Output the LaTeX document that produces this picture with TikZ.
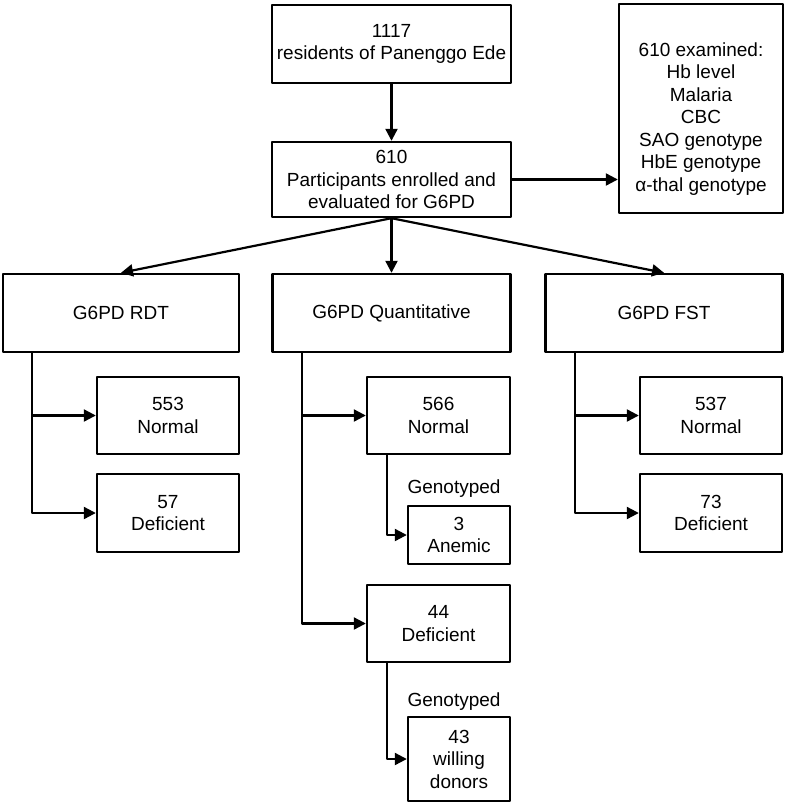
\documentclass[tikz,border=0pt]{standalone}
\usepackage{fontspec}
\setmainfont{Liberation Sans}
\usetikzlibrary{arrows.meta, positioning}

\begin{document}
\begin{tikzpicture}[
      % coordinate in pixel dell'immagine, y verso il basso
      x=1pt,
      y=-1pt,
      line join=round
  ]

  \tikzset{
      box/.style={draw=black, line width=2.4pt, fill=white, align=center,
          inner sep=0pt, font=\fontsize{19}{22.5}\selectfont},
      link/.style={draw=black, line width=2.2pt, -{Triangle[length=12pt, width=12pt]}},
      note/.style={align=center, inner sep=0pt, font=\fontsize{19}{22.5}\selectfont}
  }

  \useasboundingbox (0,0) rectangle (786,805);

  % 1. Reclutamento
  \node[box, minimum width=239pt, minimum height=78pt] (residents) at (391.5,44) {1117\\residents of Panenggo Ede};
  \node[box, minimum width=239pt, minimum height=75pt] (enrolled) at (391.5,179.5) {610\\Participants enrolled and\\evaluated for G6PD};

  \node[box, minimum width=164pt, minimum height=209pt] (exambox) at (701,108.5) {};
  \node[note] (examined) at (701,119) {610 examined:\\Hb level\\Malaria\\CBC\\SAO genotype\\HbE genotype\\α-thal genotype};

  \draw[link] (residents) -- (enrolled);
  \draw[link] (enrolled.east) -- (enrolled.east -| exambox.west);

  % 2. Tre test G6PD
  \node[box, minimum width=236pt, minimum height=78pt] (rdt)   at (121,313)   {G6PD RDT};
  \node[box, minimum width=238pt, minimum height=78pt] (quant) at (391.5,313) {G6PD Quantitative};
  \node[box, minimum width=237pt, minimum height=78pt] (fst)   at (664,313)   {G6PD FST};

  \draw[link] (enrolled.south) -- (rdt.north);
  \draw[link] (enrolled.south) -- (quant.north);
  \draw[link] (enrolled.south) -- (fst.north);

  % 3. Risultati RDT
  \node[box, minimum width=142pt, minimum height=77pt] (rdtnormal)    at (168,415.5) {553\\Normal};
  \node[box, minimum width=142pt, minimum height=78pt] (rdtdeficient) at (168,513)   {57\\Deficient};

  \draw[link] ([xshift=30pt]rdt.south west) |- (rdtnormal.west);
  \draw[link] ([xshift=30pt]rdt.south west) |- (rdtdeficient.west);

  % 4. Risultati quantitativi e genotipizzazione
  \node[box, minimum width=143pt, minimum height=77pt] (quantnormal)    at (438.5,415.5) {566\\Normal};
  \node[box, minimum width=143pt, minimum height=77pt] (quantdeficient) at (438.5,623.5) {44\\Deficient};
  \node[box, minimum width=102pt, minimum height=58pt] (anemic) at (459,535) {3\\Anemic};
  \node[box, minimum width=102pt, minimum height=84pt] (donors) at (459,759) {43\\willing\\donors};

  \node[note] (genoanemic) at (454,489) {Genotyped};
  \node[note] (genodonors) at (454,702) {Genotyped};

  \draw[link] ([xshift=31pt]quant.south west) |- (quantnormal.west);
  \draw[link] ([xshift=31pt]quant.south west) |- (quantdeficient.west);
  \draw[link] ([xshift=21pt]quantnormal.south west) |- (anemic.west);
  \draw[link] ([xshift=21pt]quantdeficient.south west) |- (donors.west);

  % 5. Risultati FST
  \node[box, minimum width=142pt, minimum height=77pt] (fstnormal)    at (711,415.5) {537\\Normal};
  \node[box, minimum width=142pt, minimum height=78pt] (fstdeficient) at (711,513)   {73\\Deficient};

  \draw[link] ([xshift=31pt]fst.south west) |- (fstnormal.west);
  \draw[link] ([xshift=31pt]fst.south west) |- (fstdeficient.west);

\end{tikzpicture}
\end{document}
